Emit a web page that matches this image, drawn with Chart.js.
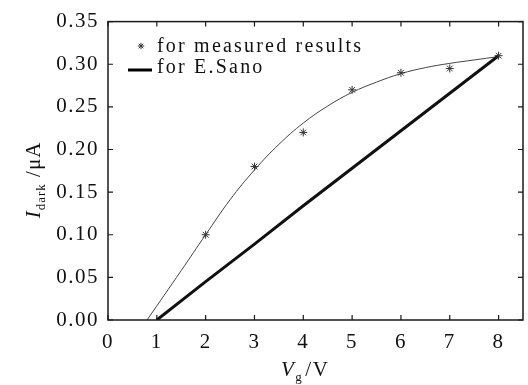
<!DOCTYPE html>
<html>
<head>
<meta charset="utf-8">
<script src="https://cdn.jsdelivr.net/npm/chart.js@4"></script>
<style>
html,body{margin:0;padding:0;background:#fff;}
#wrap{width:528px;height:385px;position:relative;}
</style>
</head>
<body>
<div id="wrap"><canvas id="c" width="528" height="385"></canvas></div>
<script>
// Data
const measuredX = [2, 3, 4, 5, 6, 7, 8];
const measuredY = [0.10, 0.18, 0.22, 0.27, 0.29, 0.295, 0.31];
const fitX = [0.8, 1.5, 2, 2.5, 3, 3.5, 4, 4.5, 5, 5.5, 6, 6.5, 7, 7.5, 8];
const fitY = [0, 0.058, 0.10, 0.141, 0.176, 0.206, 0.231, 0.251, 0.267, 0.279, 0.289, 0.296, 0.301, 0.305, 0.309];
const sanoX = [1, 2, 3, 4, 5, 6, 7, 8];
const sanoY = [0, 0.045, 0.089, 0.134, 0.178, 0.222, 0.266, 0.31];
const xTicks = [0, 1, 2, 3, 4, 5, 6, 7, 8];
const yTicks = [0, 0.05, 0.10, 0.15, 0.20, 0.25, 0.30, 0.35];
const legendLabels = ['for measured results', 'for E.Sano'];

const toPts = (xs, ys) => xs.map((x, i) => ({x: x, y: ys[i]}));
const SERIF = '"Liberation Serif", "DejaVu Serif", serif';

const framePlugin = {
  id: 'frame',
  beforeDraw(chart) {
    chart.ctx.letterSpacing = '1.5px';
  },
  afterDraw(chart) {
    const ctx = chart.ctx;
    const a = chart.chartArea;
    const xs = chart.scales.x, ys = chart.scales.y;
    ctx.save();
    ctx.letterSpacing = '0px';
    ctx.strokeStyle = '#1a1a1a';
    ctx.lineWidth = 1.5;
    ctx.strokeRect(a.left, a.top, a.right - a.left, a.bottom - a.top);
    ctx.lineWidth = 1.2;
    const L = 5;
    ctx.beginPath();
    xTicks.forEach(v => {
      const px = xs.getPixelForValue(v);
      ctx.moveTo(px, a.bottom); ctx.lineTo(px, a.bottom - L);
      ctx.moveTo(px, a.top); ctx.lineTo(px, a.top + L);
    });
    yTicks.forEach(v => {
      const py = ys.getPixelForValue(v);
      ctx.moveTo(a.left, py); ctx.lineTo(a.left + L, py);
      ctx.moveTo(a.right, py); ctx.lineTo(a.right - L, py);
    });
    ctx.stroke();

    // Legend
    ctx.fillStyle = '#111';
    ctx.font = '20px ' + SERIF;
    ctx.letterSpacing = '2.2px';
    ctx.textBaseline = 'middle';
    ctx.textAlign = 'left';
    ctx.fillText(legendLabels[0], 157, 47);
    ctx.fillText(legendLabels[1], 157, 68);
    // star marker
    drawStar(ctx, 141, 46, 3.2);
    ctx.letterSpacing = '0px';
    ctx.strokeStyle = '#000';
    ctx.lineWidth = 3;
    ctx.beginPath();
    ctx.moveTo(128, 70); ctx.lineTo(152, 70);
    ctx.stroke();

    // Y title
    ctx.save();
    ctx.translate(33, 180);
    ctx.rotate(-Math.PI / 2);
    ctx.textBaseline = 'alphabetic';
    ctx.letterSpacing = '1px';
    const p1 = 'italic 21px ' + SERIF, p2 = '13px ' + SERIF, p3 = '21px ' + SERIF;
    ctx.font = p1; const w1 = ctx.measureText('I').width;
    ctx.font = p2; const w2 = ctx.measureText('dark').width;
    ctx.font = p3; const w3 = ctx.measureText(' /μA').width;
    let sx = -(w1 + w2 + w3) / 2;
    ctx.font = p1; ctx.fillText('I', sx, 7); sx += w1;
    ctx.font = p2; ctx.fillText('dark', sx, 12); sx += w2;
    ctx.font = p3; ctx.fillText(' /μA', sx, 7);
    ctx.restore();

    // X title
    ctx.save();
    ctx.textBaseline = 'alphabetic';
    ctx.letterSpacing = '1.5px';
    let tx = 281;
    ctx.font = p1; ctx.fillText('V', tx, 376); tx += ctx.measureText('V').width;
    ctx.font = p2; ctx.fillText('g', tx, 381); tx += ctx.measureText('g').width + 2;
    ctx.font = p3; ctx.fillText('/V', tx, 376);
    ctx.restore();

    ctx.restore();
  }
};

function drawStar(ctx, x, y, r) {
  ctx.save();
  ctx.strokeStyle = '#333';
  ctx.lineWidth = 1;
  ctx.beginPath();
  for (let i = 0; i < 4; i++) {
    const ang = i * Math.PI / 4;
    ctx.moveTo(x - r * Math.cos(ang), y - r * Math.sin(ang));
    ctx.lineTo(x + r * Math.cos(ang), y + r * Math.sin(ang));
  }
  ctx.stroke();
  ctx.restore();
}

new Chart(document.getElementById('c'), {
  type: 'scatter',
  data: {
    datasets: [
      {
        label: 'fit',
        data: toPts(fitX, fitY),
        showLine: true,
        borderColor: '#444',
        borderWidth: 1,
        pointRadius: 0,
        tension: 0.4,
        fill: false,
        order: 3
      },
      {
        label: legendLabels[1],
        data: toPts(sanoX, sanoY),
        showLine: true,
        borderColor: '#111',
        borderWidth: 3,
        pointRadius: 0,
        tension: 0,
        fill: false,
        order: 2
      },
      {
        label: legendLabels[0],
        data: toPts(measuredX, measuredY),
        showLine: false,
        pointStyle: 'star',
        pointRadius: 4,
        borderColor: '#333',
        borderWidth: 1,
        backgroundColor: '#333',
        order: 1
      }
    ]
  },
  options: {
    responsive: false,
    animation: false,
    devicePixelRatio: 1,
    layout: {padding: {left: 0, top: 15, right: 3, bottom: 0}},
    plugins: {legend: {display: false}, tooltip: {enabled: false}},
    scales: {
      x: {
        type: 'linear', min: 0, max: 8.5,
        afterBuildTicks: s => { s.ticks = xTicks.map(v => ({value: v})); },
        afterFit: s => { s.height = 65; },
        grid: {display: false, drawTicks: false},
        border: {display: false},
        ticks: {
          color: '#111', padding: 10, maxRotation: 0, autoSkip: false,
          font: {family: SERIF, size: 21},
          callback: v => String(v)
        }
      },
      y: {
        type: 'linear', min: 0, max: 0.35,
        afterBuildTicks: s => { s.ticks = yTicks.map(v => ({value: v})); },
        afterFit: s => { s.width = 108; },
        grid: {display: false, drawTicks: false},
        border: {display: false},
        ticks: {
          color: '#111', padding: 9, autoSkip: false,
          font: {family: SERIF, size: 21},
          callback: v => Number(v).toFixed(2)
        }
      }
    }
  },
  plugins: [framePlugin]
});
</script>
</body>
</html>
